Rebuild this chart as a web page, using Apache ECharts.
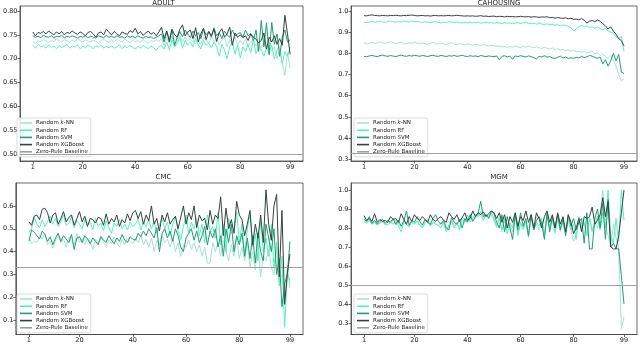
<!DOCTYPE html>
<html>
<head>
<meta charset="utf-8">
<script src="https://cdn.jsdelivr.net/npm/echarts@6/dist/echarts.min.js"></script>
<style>
  html, body { margin: 0; padding: 0; background: #fff; }
  #main { width: 640px; height: 344px; }
</style>
</head>
<body>
<div id="main"></div>
<script>
// tick labels
var xTicks = [1, 20, 40, 60, 80, 99];
var adultTicks = [0.50, 0.55, 0.60, 0.65, 0.70, 0.75, 0.80];
var cahousingTicks = [0.3, 0.4, 0.5, 0.6, 0.7, 0.8, 0.9, 1.0];
var cmcTicks = [0.1, 0.2, 0.3, 0.4, 0.5, 0.6];
var mgmTicks = [0.3, 0.4, 0.5, 0.6, 0.7, 0.8, 0.9, 1.0];

var seriesNames = ['Random k-NN', 'Random RF', 'Random SVM', 'Random XGBoost', 'Zero-Rule Baseline'];
var panelTitles = ['ADULT', 'CAHOUSING', 'CMC', 'MGM'];
var baselines = [0.5, 0.33, 0.33, 0.5];

// ADULT
var adultKnn = [.736,.732,.738,.735,.740,.737,.734,.739,.736,.741,
  .738,.735,.740,.737,.734,.739,.736,.742,.738,.735,
  .740,.737,.735,.739,.736,.733,.738,.741,.737,.734,
  .739,.736,.740,.738,.735,.741,.737,.734,.739,.736,
  .738,.734,.740,.736,.733,.738,.735,.740,.737,.742,
  .728,.745,.732,.748,.725,.740,.750,.735,.745,.738,
  .742,.735,.748,.738,.730,.745,.740,.732,.747,.736,
  .742,.730,.738,.745,.725,.740,.732,.745,.728,.738,
  .730,.742,.725,.735,.738,.728,.730,.722,.735,.720,
  .728,.715,.725,.700,.718,.690,.665,.712,.680];
var adultRf = [.728,.722,.730,.725,.727,.722,.729,.724,.726,.721,
  .728,.723,.726,.730,.722,.727,.724,.729,.721,.726,
  .723,.728,.725,.721,.727,.724,.729,.722,.726,.723,
  .727,.722,.725,.729,.721,.726,.723,.728,.724,.720,
  .726,.722,.728,.724,.721,.727,.723,.718,.725,.728,
  .720,.735,.718,.740,.725,.732,.745,.722,.738,.728,
  .735,.725,.742,.730,.720,.738,.728,.733,.722,.735,
  .725,.705,.730,.718,.700,.725,.735,.710,.728,.702,
  .725,.715,.730,.712,.740,.710,.725,.718,.705,.722,
  .712,.728,.700,.718,.725,.690,.715,.705,.725];
var adultSvm = [.748,.745,.747,.744,.749,.746,.745,.748,.744,.747,
  .746,.749,.744,.747,.745,.748,.746,.743,.747,.745,
  .748,.744,.747,.745,.743,.748,.746,.744,.749,.745,
  .747,.744,.748,.745,.746,.743,.748,.745,.747,.744,
  .748,.745,.743,.747,.744,.746,.742,.745,.748,.752,
  .735,.757,.740,.762,.728,.745,.757,.746,.760,.752,
  .744,.758,.748,.755,.742,.762,.750,.757,.745,.765,
  .748,.755,.742,.758,.750,.745,.760,.748,.752,.755,
  .745,.760,.748,.753,.738,.760,.715,.780,.725,.775,
  .708,.776,.730,.752,.705,.745,.760,.735,.740];
var adultXgb = [.756,.748,.755,.753,.757,.752,.758,.754,.750,.756,
  .752,.757,.750,.755,.753,.758,.754,.751,.756,.753,
  .748,.755,.757,.752,.745,.754,.756,.750,.762,.755,
  .750,.757,.752,.748,.756,.753,.751,.759,.755,.764,
  .752,.757,.749,.754,.758,.751,.755,.748,.756,.766,
  .742,.758,.735,.761,.750,.745,.762,.771,.748,.756,
  .760,.742,.765,.735,.752,.764,.740,.757,.748,.762,
  .736,.755,.763,.745,.752,.766,.728,.754,.745,.750,
  .744,.748,.738,.752,.745,.741,.733,.738,.754,.720,
  .745,.735,.748,.730,.742,.728,.791,.752,.709];

// CAHOUSING
var cahKnn = [.850,.845,.848,.852,.846,.850,.855,.849,.847,.852,
  .856,.850,.846,.849,.853,.848,.845,.850,.847,.852,
  .848,.845,.850,.846,.843,.848,.852,.846,.844,.849,
  .845,.842,.847,.850,.844,.841,.846,.843,.840,.845,
  .842,.838,.843,.840,.837,.841,.838,.835,.839,.836,
  .832,.836,.830,.834,.828,.833,.829,.835,.831,.827,
  .833,.829,.835,.830,.826,.831,.827,.823,.829,.824,
  .820,.826,.818,.822,.815,.819,.813,.817,.810,.814,
  .808,.812,.805,.809,.802,.806,.812,.798,.803,.790,
  .795,.785,.775,.790,.765,.740,.700,.670,.680];
var cahRf = [.947,.945,.948,.950,.947,.949,.952,.948,.946,.950,
  .953,.949,.947,.950,.948,.952,.950,.947,.953,.949,
  .951,.948,.946,.949,.947,.945,.948,.950,.946,.944,
  .948,.946,.950,.947,.945,.948,.946,.943,.947,.945,
  .948,.946,.944,.947,.943,.945,.948,.944,.946,.942,
  .945,.943,.941,.945,.942,.944,.940,.943,.945,.941,
  .944,.948,.942,.940,.943,.938,.941,.939,.936,.940,
  .935,.938,.933,.936,.930,.934,.932,.928,.922,.905,
  .915,.928,.932,.925,.930,.922,.926,.919,.923,.917,
  .912,.918,.905,.900,.895,.878,.870,.880,.810];
var cahSvm = [.786,.784,.788,.790,.787,.785,.789,.792,.788,.786,
  .790,.787,.785,.789,.792,.788,.786,.790,.787,.791,
  .789,.786,.790,.788,.785,.789,.791,.787,.786,.790,
  .788,.785,.789,.787,.790,.786,.788,.791,.787,.785,
  .789,.786,.788,.784,.790,.787,.785,.788,.786,.784,
  .788,.770,.786,.789,.783,.787,.772,.788,.785,.789,
  .786,.783,.788,.785,.780,.774,.786,.783,.789,.782,
  .785,.779,.776,.781,.787,.778,.783,.776,.780,.775,
  .782,.778,.786,.780,.784,.790,.787,.781,.776,.783,
  .750,.770,.740,.765,.800,.765,.795,.712,.705];
var cahXgb = [.978,.977,.980,.982,.979,.978,.977,.979,.978,.977,
  .979,.978,.980,.978,.977,.979,.978,.980,.981,.979,
  .977,.978,.979,.977,.978,.976,.978,.979,.977,.978,
  .977,.978,.979,.977,.978,.980,.978,.977,.976,.977,
  .976,.977,.975,.976,.978,.975,.976,.974,.975,.976,
  .973,.975,.974,.972,.975,.973,.974,.972,.973,.975,
  .973,.972,.974,.971,.973,.972,.970,.972,.971,.973,
  .968,.970,.966,.969,.967,.965,.968,.963,.966,.960,
  .962,.958,.964,.957,.943,.952,.955,.950,.957,.952,
  .940,.930,.915,.925,.905,.890,.870,.860,.835];

// CMC
var cmcKnn = [.465,.435,.445,.440,.470,.455,.480,.430,.445,.415,
  .450,.470,.440,.455,.420,.465,.445,.430,.480,.440,
  .455,.430,.460,.445,.410,.455,.435,.470,.440,.425,
  .450,.435,.465,.440,.420,.455,.430,.460,.445,.435,
  .460,.440,.470,.430,.455,.420,.460,.400,.450,.430,
  .470,.440,.455,.420,.460,.400,.440,.380,.430,.420,
  .450,.410,.440,.400,.430,.380,.420,.350,.350,.440,
  .400,.440,.380,.450,.400,.360,.430,.380,.460,.370,
  .420,.360,.440,.330,.400,.320,.440,.290,.380,.360,
  .410,.330,.300,.420,.260,.300,.180,.340,.240];
var cmcRf = [.485,.500,.550,.520,.505,.540,.510,.530,.555,.520,
  .545,.510,.530,.560,.515,.525,.550,.505,.535,.520,
  .500,.540,.515,.530,.495,.545,.510,.525,.490,.535,
  .505,.480,.525,.510,.540,.500,.520,.495,.530,.510,
  .520,.545,.495,.530,.510,.540,.500,.535,.480,.520,
  .545,.500,.530,.470,.520,.555,.490,.450,.510,.560,
  .480,.530,.500,.545,.470,.520,.440,.560,.490,.510,
  .460,.570,.430,.520,.400,.545,.480,.500,.575,.440,
  .520,.380,.500,.560,.420,.480,.360,.540,.400,.460,
  .380,.520,.330,.440,.250,.380,.070,.300,.270];
var cmcSvm = [.445,.495,.485,.470,.455,.490,.475,.445,.465,.430,
  .460,.480,.445,.470,.455,.440,.475,.410,.460,.465,
  .440,.470,.455,.435,.460,.445,.430,.465,.450,.440,
  .470,.450,.435,.460,.445,.475,.450,.440,.465,.455,
  .450,.480,.465,.490,.470,.500,.480,.460,.505,.400,
  .480,.500,.460,.490,.445,.500,.470,.420,.400,.460,
  .480,.500,.450,.490,.440,.470,.510,.430,.490,.460,
  .500,.420,.470,.380,.500,.440,.520,.400,.470,.430,
  .480,.380,.460,.370,.470,.350,.480,.400,.360,.520,
  .460,.400,.500,.300,.370,.160,.260,.300,.445];
var cmcXgb = [.530,.515,.555,.560,.540,.585,.590,.570,.525,.560,
  .570,.520,.545,.575,.530,.550,.560,.515,.545,.575,
  .530,.555,.510,.545,.540,.525,.550,.545,.515,.565,
  .520,.545,.530,.560,.510,.540,.525,.565,.535,.570,
  .580,.545,.575,.520,.560,.535,.600,.520,.545,.490,
  .560,.530,.570,.520,.540,.555,.500,.550,.600,.520,
  .570,.540,.600,.505,.560,.535,.545,.495,.580,.520,
  .560,.545,.640,.470,.590,.500,.540,.480,.620,.560,
  .540,.470,.520,.580,.430,.520,.460,.560,.440,.670,
  .520,.450,.600,.650,.290,.580,.170,.300,.390];

// MGM
var mgmKnn = [.850,.830,.845,.820,.835,.825,.840,.830,.815,.835,
  .825,.845,.815,.830,.800,.840,.825,.810,.835,.820,
  .840,.820,.805,.830,.845,.815,.835,.825,.810,.830,
  .820,.790,.815,.840,.810,.830,.800,.860,.840,.850,
  .840,.860,.850,.870,.860,.850,.875,.860,.870,.840,
  .800,.850,.780,.840,.790,.820,.780,.860,.770,.820,
  .790,.830,.760,.850,.800,.820,.790,.840,.770,.860,
  .800,.840,.770,.850,.780,.830,.760,.840,.790,.730,
  .760,.850,.790,.820,.760,.860,.790,.830,.800,.860,
  1.000,.820,.760,.700,.820,.750,.690,.270,.330];
var mgmRf = [.835,.825,.840,.820,.830,.815,.825,.835,.820,.815,
  .830,.820,.840,.810,.780,.830,.820,.805,.830,.820,
  .835,.815,.800,.825,.840,.810,.830,.820,.815,.800,
  .830,.780,.810,.835,.800,.825,.790,.850,.830,.870,
  .830,.850,.870,.860,.890,.840,.870,.860,.880,.850,
  .810,.860,.790,.850,.770,.830,.800,.880,.760,.830,
  .800,.840,.750,.860,.790,.830,.810,.850,.760,.870,
  .810,.850,.780,.860,.800,.840,.770,.850,.790,.820,
  .740,.860,.800,.830,.760,.850,.780,.820,.860,.790,
  .880,.800,1.000,.760,.720,.850,.730,1.000,.840];
var mgmSvm = [.845,.835,.860,.825,.840,.820,.835,.845,.825,.840,
  .830,.850,.820,.840,.810,.835,.890,.815,.840,.830,
  .860,.835,.815,.845,.830,.820,.850,.870,.835,.820,
  .840,.800,.790,.855,.830,.820,.845,.800,.850,.830,
  .870,.835,.860,.880,.940,.860,.870,.850,.890,.875,
  .830,.800,.870,.780,.860,.800,.740,.870,.790,.880,
  .810,.850,.760,.870,.790,.840,.860,.820,.740,.880,
  .780,.860,.800,.870,.790,.850,.760,.870,.810,.850,
  .790,.830,.850,.720,.880,.690,.690,.850,.900,.800,
  .930,.740,.950,.700,.720,.690,.690,.550,.400];
var mgmXgb = [.865,.840,.850,.835,.875,.830,.845,.835,.840,.830,
  .860,.845,.850,.830,.875,.845,.820,.860,.835,.870,
  .850,.840,.860,.845,.830,.870,.845,.835,.850,.860,
  .840,.830,.880,.860,.845,.870,.835,.855,.880,.840,
  .850,.890,.860,.880,.870,.885,.860,.875,.890,.880,
  .850,.880,.830,.870,.800,.860,.830,.880,.810,.860,
  .840,.890,.830,.870,.800,.880,.850,.800,.860,.890,
  .830,.870,.800,.880,.820,.860,.780,.870,.830,.770,
  .800,.850,.780,.860,.850,.860,.910,.820,.840,.870,
  .960,.860,.940,.700,.690,.690,.760,.880,1.000];

var panelData = [
  [adultKnn, adultRf, adultSvm, adultXgb],
  [cahKnn, cahRf, cahSvm, cahXgb],
  [cmcKnn, cmcRf, cmcSvm, cmcXgb],
  [mgmKnn, mgmRf, mgmSvm, mgmXgb]
];
var panelTicks = [adultTicks, cahousingTicks, cmcTicks, mgmTicks];

var colors = ['#a6e4cf', '#55f2c0', '#1f9e70', '#34443d', '#a0a0a0'];
var font = 'DejaVu Sans';

var grids = [
  { left: 14, top: 6, width: 289, height: 155 },
  { left: 351, top: 6, width: 286, height: 155 },
  { left: 14, top: 183, width: 289, height: 152 },
  { left: 351, top: 183, width: 286, height: 152 }
];
var yRanges = [[0.4853, 0.8105], [0.292, 1.0236], [0.038, 0.70], [0.239, 1.037]];
var decimals = [2, 1, 1, 1];

var myChart = echarts.init(document.getElementById('main'));

var titles = [], legends = [], xAxes = [], yAxes = [], series = [];
grids.forEach(function (g, p) {
    g.show = true;
    g.borderColor = '#444';
    g.borderWidth = 0.8;
    g.containLabel = false;

    titles.push({
        text: panelTitles[p],
        left: g.left + g.width / 2,
        textAlign: 'center',
        top: p < 2 ? -5 : 169,
        textStyle: { fontSize: 7, fontWeight: 'normal', fontFamily: font, color: '#222' }
    });

    // legend samples drawn as thin bars, like plain line samples
    legends.push({
        data: seriesNames,
        orient: 'vertical',
        left: g.left + 3,
        top: p < 2 ? 118 : 294,
        icon: 'rect',
        itemWidth: 12,
        itemHeight: 1.6,
        itemGap: 1.2,
        padding: [2, 3, 2, 3],
        backgroundColor: 'rgba(255,255,255,0.85)',
        borderColor: '#d4d4d4',
        borderWidth: 0.8,
        borderRadius: 2,
        formatter: function (name) {
            return name === 'Random k-NN' ? 'Random {i|k}-NN' : name;
        },
        textStyle: {
            fontSize: 5.5, fontFamily: font, color: '#222', padding: [0, 0, 0, -1],
            rich: { i: { fontStyle: 'italic', fontSize: 5.5, fontFamily: font, color: '#222' } }
        }
    });

    xAxes.push({
        type: 'value',
        gridIndex: p,
        min: -3.9,
        max: 103.9,
        splitLine: { show: false },
        axisLine: { show: true, onZero: false, lineStyle: { color: '#444', width: 0.8 } },
        axisTick: { show: true, length: 2.5, customValues: xTicks, lineStyle: { color: '#444', width: 0.8 } },
        axisLabel: { customValues: xTicks, fontSize: 6.5, fontFamily: font, color: '#222', margin: 2.5 }
    });

    yAxes.push({
        type: 'value',
        gridIndex: p,
        min: yRanges[p][0],
        max: yRanges[p][1],
        splitLine: { show: false },
        axisLine: { show: true, onZero: false, lineStyle: { color: '#444', width: 0.8 } },
        axisTick: { show: true, length: 2.5, customValues: panelTicks[p], lineStyle: { color: '#444', width: 0.8 } },
        axisLabel: {
            customValues: panelTicks[p], fontSize: 6.5, fontFamily: font, color: '#222', margin: 2.5,
            formatter: (function (d) { return function (v) { return v.toFixed(d); }; })(decimals[p])
        }
    });

    panelData[p].forEach(function (vals, s) {
        series.push({
            name: seriesNames[s],
            type: 'line',
            xAxisIndex: p,
            yAxisIndex: p,
            data: vals.map(function (v, i) { return [i + 1, v]; }),
            symbol: 'none',
            showSymbol: false,
            lineStyle: { color: colors[s], width: 1 },
            itemStyle: { color: colors[s] },
            z: 2 + s,
            animation: false
        });
    });

    series.push({
        name: seriesNames[4],
        type: 'line',
        xAxisIndex: p,
        yAxisIndex: p,
        data: [],
        symbol: 'none',
        lineStyle: { color: colors[4], width: 1.2 },
        itemStyle: { color: colors[4] },
        z: 1,
        animation: false,
        markLine: {
            silent: true,
            symbol: ['none', 'none'],
            label: { show: false },
            lineStyle: { color: colors[4], width: 1.2, type: 'solid' },
            animation: false,
            data: [{ yAxis: baselines[p] }]
        }
    });
});

var option = {
    backgroundColor: '#fff',
    animation: false,
    title: titles,
    legend: legends,
    grid: grids,
    xAxis: xAxes,
    yAxis: yAxes,
    series: series
};
myChart.setOption(option);
</script>
</body>
</html>
